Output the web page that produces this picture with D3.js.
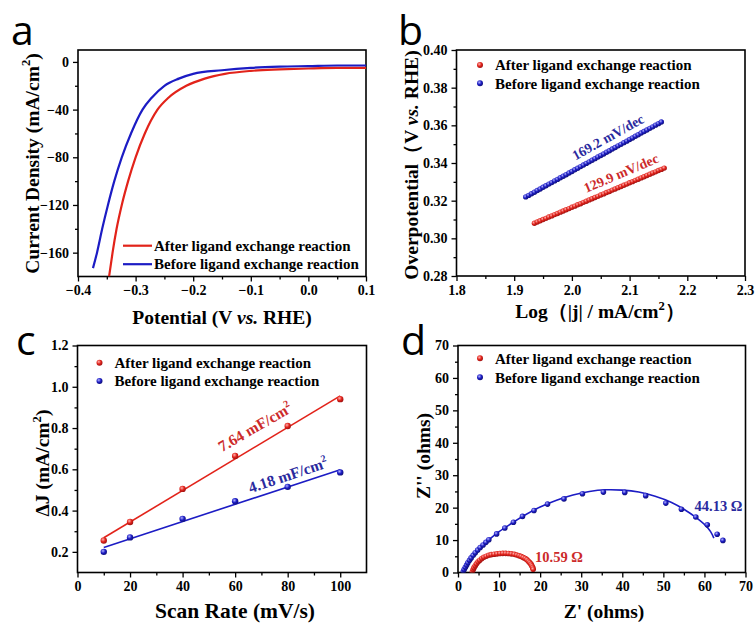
<!DOCTYPE html>
<html>
<head>
<meta charset="utf-8">
<script src="https://cdn.jsdelivr.net/npm/d3@7"></script>
<style>
  body { margin: 0; background: #fff; }
  svg text { font-family: "Liberation Serif", "Times New Roman", serif; font-weight: bold; }
  .letter { font-family: "Open Sans", sans-serif !important; font-weight: normal !important; }
</style>
</head>
<body>
<svg id="fig" width="756" height="623"></svg>
<script>
// ---- data ----
const seriesNames = ['After ligand exchange reaction', 'Before ligand exchange reaction'];

// a: LSV curves
const lsvAfterV = [-0.346,-0.340,-0.333,-0.324,-0.313,-0.300,-0.284,-0.262,-0.243,-0.212,-0.180,-0.145,-0.100,-0.050,0.000,0.050,0.100];
const lsvAfterJ = [-180,-160,-140,-120,-100,-80,-60,-40,-30,-20,-14,-10,-7.5,-6.3,-5.5,-5,-5];
const lsvBeforeV = [-0.374,-0.367,-0.358,-0.348,-0.337,-0.324,-0.308,-0.288,-0.272,-0.250,-0.225,-0.200,-0.150,-0.100,-0.050,0.000,0.050,0.100];
const lsvBeforeJ = [-173,-160,-140,-120,-100,-80,-60,-40,-30,-20,-14,-10,-7,-5,-4,-3.5,-3,-3];

// b: Tafel plots
const tafelAfterX = [1.935,1.940,1.945,1.950,1.955,1.960,1.965,1.970,1.975,1.980,1.985,1.990,1.995,2.000,2.005,2.010,2.015,2.020,2.025,2.030,2.035,2.040,2.045,2.050,2.055,2.060,2.065,2.070,2.075,2.080,2.085,2.090,2.095,2.100,2.105,2.110,2.115,2.120,2.125,2.130,2.135,2.140,2.145,2.150,2.155,2.160];
const tafelAfterY = [0.3080,0.3087,0.3093,0.3100,0.3106,0.3113,0.3119,0.3126,0.3132,0.3139,0.3145,0.3152,0.3158,0.3165,0.3171,0.3178,0.3184,0.3191,0.3197,0.3204,0.3210,0.3217,0.3223,0.3230,0.3236,0.3243,0.3249,0.3256,0.3262,0.3269,0.3275,0.3282,0.3288,0.3295,0.3301,0.3308,0.3314,0.3321,0.3327,0.3334,0.3340,0.3347,0.3353,0.3360,0.3366,0.3373];
const tafelBeforeX = [1.920,1.925,1.930,1.935,1.940,1.945,1.950,1.955,1.960,1.965,1.970,1.975,1.980,1.985,1.990,1.995,2.000,2.005,2.010,2.015,2.020,2.025,2.030,2.035,2.040,2.045,2.050,2.055,2.060,2.065,2.070,2.075,2.080,2.085,2.090,2.095,2.100,2.105,2.110,2.115,2.120,2.125,2.130,2.135,2.140,2.145,2.150,2.155];
const tafelBeforeY = [0.3220,0.3228,0.3237,0.3245,0.3254,0.3262,0.3271,0.3279,0.3288,0.3296,0.3305,0.3313,0.3322,0.3330,0.3338,0.3347,0.3355,0.3364,0.3372,0.3381,0.3389,0.3398,0.3406,0.3415,0.3423,0.3432,0.3440,0.3448,0.3457,0.3465,0.3474,0.3482,0.3491,0.3499,0.3508,0.3516,0.3525,0.3533,0.3542,0.3550,0.3559,0.3567,0.3575,0.3584,0.3592,0.3601,0.3609,0.3618];

// c: double-layer current vs scan rate
const scanRate = [10, 20, 40, 60, 80, 100];
const dJAfter = [0.255, 0.345, 0.505, 0.665, 0.810, 0.940];
const dJBefore = [0.200, 0.270, 0.360, 0.445, 0.515, 0.585];

// d: Nyquist plots
const eisAfterRe = [3.5,3.7,3.9,4.2,4.5,4.9,5.3,5.8,6.3,6.9,7.5,8.1,8.8,9.5,10.2,10.9,11.6,12.3,13.0,13.7,14.3,14.9,15.4,15.9,16.4,16.8,17.2,17.5,17.8,18.0,18.2,18.3];
const eisAfterIm = [0.2,0.9,1.5,2.1,2.7,3.3,3.8,4.3,4.7,5.0,5.3,5.5,5.65,5.75,5.85,5.9,5.9,5.85,5.75,5.6,5.4,5.15,4.9,4.6,4.3,3.9,3.4,3.0,2.5,2.0,1.5,1.0];
const eisBeforeRe = [1.3,1.5,1.8,2.1,2.4,2.8,3.2,3.7,4.2,4.8,5.4,6.1,6.8,7.5,9.4,11.4,13.5,15.7,18.5,21.8,25.8,30.3,35.4,40.6,45.7,50.6,54.4,57.9,60.7,63.1,64.5];
const eisBeforeIm = [0.3,0.9,1.6,2.3,3.0,3.8,4.5,5.3,6.1,6.9,7.7,8.5,9.3,10.1,11.9,13.7,15.5,17.3,19.1,21.1,22.7,24.3,24.8,24.7,23.7,21.4,19.5,17.1,14.7,11.8,9.9];
const eisFitRe = [1.2,2.0,3.0,4.5,6.0,8.0,10.0,13.0,16.0,20.0,24.0,28.0,32.0,36.0,40.0,44.0,48.0,52.0,55.0,58.0,60.5,61.5,62.3];
const eisFitIm = [0,1.9,3.9,6.2,8.2,10.6,12.6,15.1,17.5,20.2,22.3,23.9,25.0,25.5,25.4,24.8,23.5,21.6,19.5,16.9,14.2,12.6,10.6];

// tick labels
const aXTicks = [-0.4,-0.3,-0.2,-0.1,0.0,0.1], aYTicks = [-160,-120,-80,-40,0];
const bXTicks = [1.8,1.9,2.0,2.1,2.2,2.3], bYTicks = [0.28,0.30,0.32,0.34,0.36,0.38,0.40];
const cXTicks = [0,20,40,60,80,100], cYTicks = [0.2,0.4,0.6,0.8,1.0,1.2];
const dXTicks = [0,10,20,30,40,50,60,70], dYTicks = [0,10,20,30,40,50,60,70];

const RED = '#e2231a', BLUE = '#1c1cc4';
const RED_TXT = '#cc2a2a', BLUE_TXT = '#2a2a9e';

const svg = d3.select('#fig');
const defs = svg.append('defs');

function ballGradient(id, light, base, dark) {
  const gr = defs.append('radialGradient').attr('id', id)
    .attr('cx', '38%').attr('cy', '35%').attr('r', '65%');
  gr.append('stop').attr('offset', '0%').attr('stop-color', light);
  gr.append('stop').attr('offset', '55%').attr('stop-color', base);
  gr.append('stop').attr('offset', '100%').attr('stop-color', dark);
}
ballGradient('ballRed', '#ffb0b0', RED, '#a01212');
ballGradient('ballBlue', '#b0b0ff', BLUE, '#10107a');

// builds the frame, axes and clip for one panel
function makePanel(id, box, xDom, yDom, xTicks, yTicks, xFmt, yFmt) {
  const x = d3.scaleLinear().domain(xDom).range([box.l, box.r]);
  const y = d3.scaleLinear().domain(yDom).range([box.b, box.t]);
  const g = svg.append('g');

  defs.append('clipPath').attr('id', id)
    .append('rect').attr('x', box.l).attr('y', box.t)
    .attr('width', box.r - box.l).attr('height', box.b - box.t);

  // minor ticks halfway between majors
  const xMinor = d3.pairs(xTicks).map(p => (p[0] + p[1]) / 2);
  const yMinor = d3.pairs(yTicks).map(p => (p[0] + p[1]) / 2);
  if (yDom[0] < yTicks[0]) yMinor.unshift(yTicks[0] - (yTicks[1] - yTicks[0]) / 2);
  if (xDom[1] > xTicks[xTicks.length - 1]) xMinor.push(xTicks[xTicks.length - 1] + (xTicks[1] - xTicks[0]) / 2);

  g.append('g').attr('transform', `translate(0,${box.b})`)
    .call(d3.axisBottom(x).tickValues(xMinor.filter(v => v > xDom[0] && v < xDom[1])).tickSize(3).tickFormat(''));
  g.append('g').attr('transform', `translate(${box.l},0)`)
    .call(d3.axisLeft(y).tickValues(yMinor.filter(v => v > yDom[0] && v < yDom[1])).tickSize(3).tickFormat(''));
  g.append('g').attr('transform', `translate(0,${box.b})`)
    .call(d3.axisBottom(x).tickValues(xTicks).tickSize(5).tickPadding(4).tickFormat(xFmt));
  g.append('g').attr('transform', `translate(${box.l},0)`)
    .call(d3.axisLeft(y).tickValues(yTicks).tickSize(5).tickPadding(4).tickFormat(yFmt));

  g.selectAll('.domain').remove();
  g.selectAll('.tick line').attr('stroke', '#000').attr('stroke-width', 1.3);
  g.selectAll('.tick text').attr('fill', '#000').style('font-size', '14px');

  g.append('rect').attr('x', box.l).attr('y', box.t)
    .attr('width', box.r - box.l).attr('height', box.b - box.t)
    .attr('fill', 'none').attr('stroke', '#000').attr('stroke-width', 1.6);

  const plot = svg.append('g').attr('clip-path', `url(#${id})`);
  return { x, y, plot };
}

// text with pieces: [string, 'sup' | 'it' | undefined]
function richText(parent, px, py, size, parts, opts) {
  opts = opts || {};
  const t = parent.append('text')
    .attr('x', px).attr('y', py)
    .style('font-size', size + 'px')
    .attr('fill', opts.fill || '#000')
    .attr('text-anchor', opts.anchor || 'middle');
  if (opts.rotate) t.attr('transform', `rotate(${opts.rotate},${px},${py})`);
  let back = 0;
  parts.forEach(p => {
    const s = t.append('tspan').text(p[0]);
    if (back) { s.attr('dy', back); back = 0; }
    if (p[1] === 'sup') {
      s.style('font-size', (size * 0.65) + 'px').attr('dy', -size * 0.42);
      back = size * 0.42;
    }
    if (p[1] === 'it') s.style('font-style', 'italic');
  });
  return t;
}

function letter(px, py, ch) {
  svg.append('text').attr('class', 'letter')
    .attr('x', px).attr('y', py).style('font-size', '41px').text(ch);
}

function legendBalls(px, py, gap) {
  ['ballRed', 'ballBlue'].forEach((b, i) => {
    svg.append('circle').attr('cx', px).attr('cy', py + i * gap).attr('r', 3)
      .attr('fill', `url(#${b})`);
    svg.append('text').attr('x', px + 15).attr('y', py + i * gap).attr('dy', '0.35em')
      .style('font-size', '15px').text(seriesNames[i]);
  });
}

// ---------- panel a ----------
const A = makePanel('clipA', { l: 78, r: 366, t: 50, b: 276.5 }, [-0.4, 0.1], [-180, 10],
  aXTicks, aYTicks, d3.format('.1f'), d3.format('d'));
const lineA = d3.line().x(d => A.x(d[0])).y(d => A.y(d[1])).curve(d3.curveMonotoneX);
A.plot.append('path').attr('d', lineA(d3.zip(lsvAfterV, lsvAfterJ)))
  .attr('fill', 'none').attr('stroke', RED).attr('stroke-width', 2.2);
A.plot.append('path').attr('d', lineA(d3.zip(lsvBeforeV, lsvBeforeJ)))
  .attr('fill', 'none').attr('stroke', BLUE).attr('stroke-width', 2.2);
[RED, BLUE].forEach((c, i) => {
  svg.append('line').attr('x1', 123).attr('x2', 152)
    .attr('y1', 245.7 + i * 18.5).attr('y2', 245.7 + i * 18.5)
    .attr('stroke', c).attr('stroke-width', 2.2);
  svg.append('text').attr('x', 154).attr('y', 245.7 + i * 18.5).attr('dy', '0.35em')
    .style('font-size', '15px').text(seriesNames[i]);
});
richText(svg, 222, 324, 19.5, [['Potential (V '], ['vs.', 'it'], [' RHE)']]);
richText(svg, 38.5, 163.5, 19.5, [['Current Density (mA/cm'], ['2', 'sup'], [')']], { rotate: -90 });
letter(11, 45, 'a');

// ---------- panel b ----------
const B = makePanel('clipB', { l: 456.5, r: 745, t: 50, b: 276 }, [1.8, 2.3], [0.28, 0.40],
  bXTicks, bYTicks, d3.format('.1f'), d3.format('.2f'));
B.plot.selectAll('.tafA').data(d3.zip(tafelAfterX, tafelAfterY)).enter().append('circle')
  .attr('cx', d => B.x(d[0])).attr('cy', d => B.y(d[1])).attr('r', 2.7)
  .attr('fill', 'url(#ballRed)');
B.plot.selectAll('.tafB').data(d3.zip(tafelBeforeX, tafelBeforeY)).enter().append('circle')
  .attr('cx', d => B.x(d[0])).attr('cy', d => B.y(d[1])).attr('r', 2.7)
  .attr('fill', 'url(#ballBlue)');
legendBalls(480, 65, 18.3);
richText(svg, 608, 137, 13.8, [['169.2 mV/dec']], { rotate: -29, fill: BLUE_TXT }).attr('dy', '0.35em');
richText(svg, 621, 173, 13.8, [['129.9 mV/dec']], { rotate: -23, fill: RED_TXT }).attr('dy', '0.35em');
richText(svg, 600, 318, 19.5, [['Log\uFF08|j| / mA/cm'], ['2', 'sup'], ['\uFF09']]);
richText(svg, 417.5, 165, 19.5, [['Overpotential\uFF08V '], ['vs.', 'it'], [' RHE)']], { rotate: -90 });
letter(398, 45, 'b');

// ---------- panel c ----------
const C = makePanel('clipC', { l: 77.5, r: 366.5, t: 345.5, b: 572.5 }, [0, 110], [0.1, 1.2],
  cXTicks, cYTicks, d3.format('d'), d3.format('.1f'));
function fit(xs, ys) {
  const mx = d3.mean(xs), my = d3.mean(ys);
  const k = d3.sum(xs, (v, i) => (v - mx) * (ys[i] - my)) / d3.sum(xs, v => (v - mx) * (v - mx));
  return v => my + k * (v - mx);
}
[[dJAfter, RED, 'ballRed'], [dJBefore, BLUE, 'ballBlue']].forEach(s => {
  const f = fit(scanRate, s[0]);
  const ends = d3.extent(scanRate);
  C.plot.append('line')
    .attr('x1', C.x(ends[0])).attr('y1', C.y(f(ends[0])))
    .attr('x2', C.x(ends[1])).attr('y2', C.y(f(ends[1])))
    .attr('stroke', s[1]).attr('stroke-width', 1.6);
  C.plot.selectAll(null).data(d3.zip(scanRate, s[0])).enter().append('circle')
    .attr('cx', d => C.x(d[0])).attr('cy', d => C.y(d[1])).attr('r', 3.2)
    .attr('fill', `url(#${s[2]})`);
});
legendBalls(99.5, 362.7, 18.3);
richText(svg, 255, 427, 15.5, [['7.64 mF/cm'], ['2', 'sup']], { rotate: -30, fill: RED_TXT }).attr('dy', '0.35em');
richText(svg, 288, 475, 15.5, [['4.18 mF/cm'], ['2', 'sup']], { rotate: -18.4, fill: BLUE_TXT }).attr('dy', '0.35em');
richText(svg, 235, 618, 21.5, [['Scan Rate (mV/s)']]);
richText(svg, 49, 463, 19.5, [['\u0394J (mA/cm'], ['2', 'sup'], [')']], { rotate: -90 });
letter(16, 355, 'c');

// ---------- panel d ----------
const D = makePanel('clipD', { l: 458, r: 745.5, t: 345.5, b: 572.5 }, [0, 70], [0, 70],
  dXTicks, dYTicks, d3.format('d'), d3.format('d'));
const lineD = d3.line().x(d => D.x(d[0])).y(d => D.y(d[1])).curve(d3.curveCatmullRom);
D.plot.append('path').attr('d', lineD(d3.zip(eisFitRe, eisFitIm)))
  .attr('fill', 'none').attr('stroke', BLUE).attr('stroke-width', 1.6);
D.plot.selectAll('.eisA').data(d3.zip(eisAfterRe, eisAfterIm)).enter().append('circle')
  .attr('cx', d => D.x(d[0])).attr('cy', d => D.y(d[1])).attr('r', 2.8)
  .attr('fill', 'url(#ballRed)');
D.plot.selectAll('.eisB').data(d3.zip(eisBeforeRe, eisBeforeIm)).enter().append('circle')
  .attr('cx', d => D.x(d[0])).attr('cy', d => D.y(d[1])).attr('r', 2.8)
  .attr('fill', 'url(#ballBlue)');
legendBalls(480, 358.3, 19);
richText(svg, 535, 562, 14.5, [['10.59 \u03A9']], { anchor: 'start', fill: RED_TXT });
richText(svg, 694.5, 511, 14.5, [['44.13 \u03A9']], { anchor: 'start', fill: BLUE_TXT });
richText(svg, 604, 618, 19.5, [["Z' (ohms)"]]);
richText(svg, 429.5, 456, 19.5, [["Z'' (ohms)"]], { rotate: -90 });
letter(401, 355, 'd');
</script>
</body>
</html>
